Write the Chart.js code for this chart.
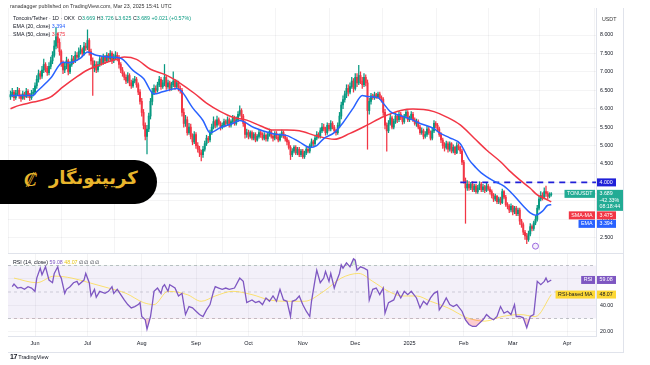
<!DOCTYPE html>
<html>
<head>
<meta charset="utf-8">
<script src="https://cdn.jsdelivr.net/npm/chart.js@4.4.1/dist/chart.umd.min.js"></script>
<style>
  body { margin: 0; background: #fff; overflow: hidden; font-family: "Liberation Sans", Arial, sans-serif; }
  #wrap { position: relative; width: 650px; height: 365px; }
  canvas { position: absolute; }
  .txt { position: absolute; font-size: 5.3px; line-height: 6px; color: #131722; white-space: nowrap; }
  .g { color: #089981; }
  .line { position: absolute; background: #e0e3eb; }
  #logo { position: absolute; left: -22px; top: 160px; width: 179px; height: 44px; background: #000;
          border-radius: 0 22px 22px 0; }
  #logo .fa { position: absolute; left: 71px; top: 7px; direction: rtl; font: bold 18px "DejaVu Sans", sans-serif; color: #e8b52c; }
  #logo .coin { position: absolute; left: 46px; top: 8px; font: italic bold 19px "DejaVu Serif", serif; color: #e8b52c; }
</style>
</head>
<body>
<div id="wrap">
  <canvas id="price-chart" width="615" height="245" style="left:8px;top:8px"></canvas>
  <canvas id="rsi-chart" width="615" height="100" style="left:8px;top:253px"></canvas>

  <div class="line" style="left:8px;top:253px;width:615px;height:1px"></div>
  <div class="line" style="left:623px;top:8px;width:1px;height:345px"></div>
  <div class="line" style="left:8px;top:352px;width:615px;height:1px"></div>

  <div class="txt" style="left:10px;top:3px;color:#333">ranadagger published on TradingView.com, Mar 23, 2025 15:41 UTC</div>
  <div class="txt" style="left:13px;top:15px">Toncoin/Tether · 1D · OKX&nbsp; O<span class="g">3.669</span> H<span class="g">3.726</span> L<span class="g">3.625</span> C<span class="g">3.689</span> <span class="g">+0.021 (+0.57%)</span></div>
  <div class="txt" style="left:13px;top:23px">EMA (20, close) <span style="color:#2962ff">3.394</span></div>
  <div class="txt" style="left:13px;top:31px">SMA (50, close) <span style="color:#f23645">3.475</span></div>
  <div class="txt" style="left:13px;top:259px">RSI (14, close) <span style="color:#7e57c2">59.08</span> <span style="color:#e6c619">48.07</span> ∅ ∅ ∅ ∅</div>
  <div class="txt" style="left:602px;top:16px;color:#333">USDT</div>

  <div id="logo"><span class="coin">₡</span><span class="fa">کریپتونگار</span></div>

  <div class="txt" style="left:10px;top:354px;font-size:5.5px"><b style="font-size:7px;letter-spacing:-0.5px">17</b> TradingView</div>
</div>

<script>
// Toncoin/Tether 1D, days counted from Jun 1 2024 (day 0)
const firstDay = -14;
const firstOpen = 6.32;
const closes = [
  6.38, 6.45, 6.30, 6.42, 6.50, 6.35, 6.28, 6.40, 6.33, 6.47, 6.38, 6.30, 6.42, 6.45,
  6.62, 6.80, 6.95, 6.88, 7.05, 7.20, 7.10, 6.98, 7.15, 7.30, 7.45,
  7.70, 7.95, 7.80, 7.55, 7.25,
  7.05, 7.15, 7.30, 7.00, 7.20, 7.35,
  7.30, 7.45, 7.40, 7.55, 7.60, 7.50, 7.70, 7.65, 7.85,
  7.55, 7.30, 7.10, 7.20, 7.05,
  7.20, 7.35, 7.25, 7.40, 7.30, 7.45, 7.35, 7.50, 7.30, 7.40, 7.45,
  7.40, 7.20,
  7.05, 6.95, 6.85, 6.75, 6.90, 6.70, 6.62, 6.75, 6.80, 6.65,
  6.45, 6.20, 5.90, 5.55, 5.25, 5.45, 5.80, 6.20, 6.45, 6.55,
  6.50, 6.65, 6.80, 6.60, 6.70, 6.85, 6.60,
  6.70, 6.55, 6.65, 6.75, 6.60, 6.70, 6.55, 6.50,
  5.90, 5.60, 5.70, 5.35, 5.50, 5.25, 5.10, 5.30, 5.00, 4.90, 4.80,
  4.75, 4.90, 5.05, 5.20, 5.15, 5.35,
  5.50, 5.65, 5.55, 5.70, 5.60, 5.50,
  5.55, 5.65, 5.60, 5.70, 5.55, 5.65, 5.75, 5.60, 5.70, 5.85, 5.95,
  5.80, 5.60, 5.30, 5.35,
  5.25, 5.35, 5.20, 5.30, 5.15, 5.25, 5.35, 5.30, 5.20, 5.28, 5.18, 5.30, 5.38, 5.25, 5.20, 5.32, 5.22, 5.15, 5.28, 5.35, 5.25, 5.18, 5.10,
  4.95, 4.75, 4.85, 4.95, 4.80, 4.90, 4.75, 4.85, 4.70, 4.80, 4.90, 4.85, 5.00,
  5.10, 5.05, 5.20, 5.30, 5.25, 5.40,
  5.50, 5.45, 5.35, 5.55, 5.45, 5.60, 5.50, 5.40, 5.35,
  5.55, 5.80, 6.10, 6.25, 6.40, 6.55,
  6.45, 6.60, 6.75, 6.55, 6.85, 6.70, 6.90, 6.75, 6.65, 6.85, 6.70,
  5.95,
  6.20, 6.35, 6.30, 6.38, 6.32, 6.40, 6.30, 6.25,
  5.90, 5.55, 5.40,
  5.60, 5.75, 5.50, 5.65, 5.80, 5.70,
  5.85, 5.75, 5.65, 5.80, 5.90, 5.70, 5.75, 5.85, 5.70, 5.60, 5.65,
  5.50, 5.35, 5.40, 5.25, 5.30, 5.45, 5.35, 5.20, 5.40,
  5.60, 5.55, 5.45,
  5.30, 5.15, 5.00, 4.95, 5.05,
  4.90, 5.05, 4.85, 4.95, 4.80, 5.00, 4.95, 4.85,
  4.55, 4.05, 3.85, 3.95,
  3.85, 3.95, 3.80, 3.90, 3.75, 3.85, 3.95, 3.80, 3.88, 3.78, 3.90, 3.82, 3.75,
  3.65, 3.55, 3.62, 3.48, 3.55, 3.45, 3.75, 3.60, 3.40, 3.35,
  3.25, 3.35, 3.20, 3.30, 3.15, 3.25, 2.95,
  2.85, 2.65, 2.55, 2.45, 2.60,
  2.80, 2.75, 2.90, 3.00,
  3.30, 3.55, 3.65,
  3.60, 3.75, 3.70, 3.62, 3.67, 3.689
];
const highs = [
  6.48, 6.55, 6.50, 6.50, 6.58, 6.55, 6.40, 6.48, 6.45, 6.55, 6.52, 6.42, 6.50, 6.55,
  6.70, 6.90, 7.05, 7.02, 7.15, 7.35, 7.25, 7.15, 7.25, 7.40, 7.55,
  7.85, 8.20, 8.05, 7.90, 7.60,
  7.30, 7.25, 7.40, 7.35, 7.28, 7.45,
  7.42, 7.55, 7.52, 7.65, 7.72, 7.65, 7.80, 7.78, 8.14,
  7.90, 7.62, 7.38, 7.30, 7.28,
  7.28, 7.45, 7.40, 7.48, 7.45, 7.52, 7.50, 7.58, 7.55, 7.48, 7.55,
  7.52, 7.45,
  7.25, 7.12, 7.00, 6.92, 6.98, 6.95, 6.78, 6.82, 6.88, 6.85,
  6.70, 6.52, 6.28, 5.98, 5.62, 5.55, 5.88, 6.28, 6.55, 6.65,
  6.62, 6.72, 6.88, 6.85, 6.78, 7.20, 6.90,
  6.78, 6.75, 6.72, 7.00, 6.80, 6.78, 6.75, 6.62,
  6.55, 6.00, 5.82, 5.78, 5.60, 5.58, 5.32, 5.38, 5.35, 5.08, 4.98,
  4.88, 4.98, 5.12, 5.28, 5.25, 5.42,
  5.58, 5.78, 5.70, 5.80, 5.75, 5.65,
  5.62, 5.72, 5.70, 5.78, 5.75, 5.70, 5.82, 5.80, 5.78, 5.92, 6.08,
  6.00, 5.85, 5.65, 5.45,
  5.42, 5.40, 5.40, 5.35, 5.35, 5.30, 5.42, 5.40, 5.35, 5.35, 5.32, 5.35, 5.45, 5.42, 5.30, 5.38, 5.38, 5.28, 5.32, 5.42, 5.40, 5.30, 5.22,
  5.15, 5.00, 4.92, 5.00, 5.00, 4.95, 4.95, 4.90, 4.90, 4.85, 4.95, 4.98, 5.05,
  5.18, 5.15, 5.28, 5.38, 5.35, 5.48,
  5.60, 5.58, 5.50, 5.62, 5.60, 5.68, 5.65, 5.55, 5.45,
  5.62, 5.90, 6.18, 6.35, 6.48, 6.65,
  6.65, 6.70, 6.85, 6.82, 6.95, 6.95, 7.18, 7.00, 6.85, 6.95, 6.92,
  6.78,
  6.28, 6.42, 6.40, 6.45, 6.42, 6.45, 6.45, 6.35,
  6.30, 5.98, 5.62,
  5.68, 5.85, 5.80, 5.72, 5.88, 5.85,
  5.92, 5.90, 5.80, 5.85, 5.98, 5.95, 5.80, 5.92, 5.90, 5.75, 5.72,
  5.70, 5.55, 5.48, 5.45, 5.38, 5.52, 5.50, 5.40, 5.48,
  5.68, 5.65, 5.60,
  5.50, 5.35, 5.20, 5.08, 5.12,
  5.10, 5.10, 5.08, 5.02, 4.98, 5.08, 5.05, 4.98,
  4.90, 4.60, 4.12, 4.05,
  4.02, 4.00, 4.02, 3.95, 3.95, 3.92, 4.02, 4.00, 3.95, 3.92, 3.98, 3.95, 3.88,
  3.80, 3.70, 3.68, 3.65, 3.60, 3.60, 3.82, 3.78, 3.65, 3.45,
  3.40, 3.42, 3.38, 3.35, 3.35, 3.30, 3.30,
  3.00, 2.90, 2.70, 2.62, 2.68,
  2.88, 2.85, 2.95, 3.08,
  3.38, 3.62, 3.75,
  3.72, 3.85, 3.90, 3.75, 3.72, 3.726
];
const lows = [
  6.25, 6.32, 6.22, 6.25, 6.38, 6.28, 6.20, 6.25, 6.25, 6.30, 6.30, 6.22, 6.25, 6.35,
  6.40, 6.55, 6.72, 6.80, 6.82, 6.98, 7.00, 6.90, 6.92, 7.08, 7.22,
  7.40, 7.62, 7.65, 7.45, 7.15,
  6.95, 6.98, 7.08, 6.92, 6.95, 7.15,
  7.22, 7.25, 7.32, 7.35, 7.48, 7.42, 7.45, 7.58, 7.60,
  7.45, 7.20, 6.36, 7.00, 6.98,
  7.00, 7.15, 7.18, 7.20, 7.22, 7.25, 7.28, 7.30, 7.22, 7.25, 7.35,
  7.30, 7.10,
  6.98, 6.88, 6.78, 6.68, 6.70, 6.62, 6.55, 6.58, 6.70, 6.58,
  6.38, 6.12, 5.80, 5.45, 5.15, 4.77, 5.38, 5.72, 6.10, 6.38,
  6.42, 6.45, 6.60, 6.52, 6.55, 6.62, 6.52,
  6.55, 6.48, 6.50, 6.60, 6.52, 6.55, 6.48, 6.42,
  5.80, 5.50, 5.52, 5.28, 5.30, 5.18, 5.02, 5.05, 4.92, 4.82, 4.70,
  4.58, 4.68, 4.85, 5.00, 5.08, 5.10,
  5.30, 5.45, 5.48, 5.50, 5.55, 5.42,
  5.45, 5.50, 5.52, 5.55, 5.50, 5.50, 5.60, 5.55, 5.55, 5.65, 5.80,
  5.72, 5.52, 5.20, 5.22,
  5.18, 5.20, 5.15, 5.15, 5.10, 5.12, 5.20, 5.22, 5.15, 5.15, 5.12, 5.12, 5.25, 5.20, 5.12, 5.15, 5.18, 5.10, 5.12, 5.22, 5.20, 5.12, 5.02,
  4.90, 4.62, 4.70, 4.80, 4.75, 4.75, 4.70, 4.70, 4.65, 4.65, 4.75, 4.80, 4.80,
  4.95, 4.98, 5.00, 5.15, 5.20, 5.20,
  5.35, 5.40, 5.28, 5.30, 5.40, 5.40, 5.45, 5.35, 5.28,
  5.30, 5.48, 5.72, 6.00, 6.18, 6.30,
  6.35, 6.40, 6.55, 6.45, 6.50, 6.60, 6.65, 6.68, 6.55, 6.60, 6.62,
  4.90,
  5.85, 6.12, 6.25, 6.25, 6.28, 6.28, 6.25, 6.18,
  5.82, 5.45, 4.85,
  5.35, 5.55, 5.45, 5.45, 5.60, 5.62,
  5.65, 5.70, 5.58, 5.60, 5.75, 5.65, 5.65, 5.70, 5.65, 5.55, 5.52,
  5.45, 5.30, 5.30, 5.18, 5.20, 5.25, 5.30, 5.15, 5.15,
  5.35, 5.48, 5.38,
  5.25, 5.08, 4.92, 4.85, 4.90,
  4.82, 4.85, 4.80, 4.80, 4.75, 4.78, 4.88, 4.78,
  4.48, 3.98, 2.89, 3.78,
  3.78, 3.80, 3.75, 3.75, 3.70, 3.70, 3.80, 3.75, 3.75, 3.72, 3.75, 3.78, 3.68,
  3.58, 3.48, 3.50, 3.42, 3.42, 3.40, 3.42, 3.55, 3.35, 3.28,
  3.18, 3.20, 3.12, 3.15, 3.10, 3.10, 2.86,
  2.78, 2.58, 2.45, 2.34, 2.40,
  2.55, 2.68, 2.70, 2.85,
  2.95, 3.25, 3.50,
  3.52, 3.55, 3.62, 3.55, 3.58, 3.625
];

const emaDays = [-14, -1, 1, 9, 16, 20, 26, 30, 35, 43, 49, 56, 62, 68, 73, 81, 84, 90, 96, 100,
  106, 113, 117, 125, 136, 144, 151, 157, 161, 165, 171, 176, 182, 187, 190, 196, 199, 203, 209, 214,
  220, 228, 231, 237, 243, 248, 252, 255, 262, 268, 273, 279, 283, 286, 290, 293, 295];
const emaValues = [6.36, 6.36, 6.46, 6.83, 7.26, 7.25, 7.37, 7.54, 7.45, 7.40, 7.37, 7.04, 6.82, 6.40, 6.46, 6.55, 6.46, 6.03, 5.68, 5.35,
  5.49, 5.60, 5.68, 5.49, 5.32, 5.27, 5.10, 4.95, 5.00, 5.19, 5.35, 5.62, 6.03, 6.36, 6.33, 6.30, 6.15, 5.92, 5.81, 5.73,
  5.60, 5.46, 5.35, 5.21, 5.05, 4.62, 4.40, 4.26, 4.04, 3.90, 3.68, 3.36, 3.17, 3.11, 3.22, 3.38, 3.394];

const smaDays = [-14, -9, -1, 9, 16, 24, 30, 37, 45, 51, 58, 66, 75, 83, 91, 98, 106, 113, 121, 129,
  136, 144, 151, 161, 171, 180, 190, 199, 209, 216, 222, 228, 235, 243, 251, 258, 266, 271, 277, 283, 287, 291, 295];
const smaValues = [6.00, 6.09, 6.18, 6.32, 6.59, 6.87, 7.05, 7.19, 7.32, 7.40, 7.34, 7.07, 6.91, 6.69, 6.42, 6.15, 5.92, 5.77, 5.69, 5.53,
  5.42, 5.42, 5.40, 5.26, 5.17, 5.33, 5.56, 5.78, 5.95, 5.99, 5.98, 5.92, 5.78, 5.56, 5.20, 4.88, 4.56, 4.32, 4.07, 3.84, 3.66, 3.57, 3.475];

const rsiDays = [-13, -12, -10, -8, -6, -4, -2, 0, 1, 3, 4, 6, 8, 10, 11, 13, 14, 15, 17, 18, 20, 22, 24, 25, 28, 29, 31, 32, 34, 35,
  37, 40, 42, 44, 45, 47, 49, 51, 53, 55, 57, 59, 60, 61, 63, 64, 66, 67, 68, 70, 72, 73, 74, 76, 77, 80, 82, 84, 86, 88,
  90, 92, 94, 96, 98, 100, 102, 103, 105, 107, 109, 111, 114, 117, 119, 121, 124, 126, 128, 130, 132, 134, 136, 138, 140, 142, 144, 146, 147, 149,
  151, 153, 155, 157, 158, 160, 161, 163, 165, 166, 168, 169, 171, 172, 174, 175, 176, 178, 180, 182, 183, 184, 186, 188, 190, 191, 193, 195, 197, 199,
  200, 202, 205, 207, 209, 211, 213, 215, 218, 220, 222, 224, 226, 228, 230, 231, 233, 235, 237, 239, 241, 244, 246, 248, 250, 252, 254, 256, 258, 260,
  262, 264, 266, 268, 270, 272, 274, 275, 277, 279, 281, 283, 285, 287, 289, 291, 292, 293, 295];
const rsiValues = [54, 56, 53, 53.5, 52, 54, 53, 50.5, 60.5, 68, 63, 69, 59, 57, 64, 69, 63, 60.5, 49, 52, 54, 57, 58, 55.5, 59, 64, 57, 47, 52, 46,
  50.5, 49, 50.5, 54, 49, 52, 48, 44, 40.5, 38, 39, 40.5, 42, 31.5, 29, 22, 31.5, 40.5, 50.5, 53, 49, 54, 55.5, 50.5, 55.5, 53, 47, 49, 33, 39,
  38, 35.5, 33, 31.5, 36.5, 40.5, 50.5, 54, 53, 52, 53, 52, 53, 60.5, 58, 42, 44, 42, 43, 40.5, 45.5, 43, 47, 43, 52, 44, 43, 31.5, 43, 44,
  47, 40.5, 35.5, 31.5, 43, 59, 66.5, 57, 60.5, 65.5, 58, 64, 53, 57, 64, 70.5, 68, 72, 69, 75, 74, 66.5, 69, 68, 66.5, 44, 52, 53, 48, 53,
  34, 42, 44, 50.5, 45.5, 50.5, 48, 50.5, 45.5, 38, 43, 40.5, 45.5, 49, 50.5, 36.5, 40.5, 45.5, 40.5, 39, 40.5, 35.5, 29, 25.5, 24, 24, 26.5, 29, 33, 30.5,
  29, 31.5, 39, 34, 35.5, 33, 40.5, 31.5, 31.5, 30.5, 23, 31.5, 33, 58, 55.5, 58, 60.5, 57.5, 59.08];

const rsiMaDays = [-12, 1, 11, 21, 31, 42, 52, 62, 68, 76, 87, 95, 103, 113, 124, 134, 144, 154, 165, 175,
  185, 193, 202, 210, 218, 226, 236, 247, 257, 267, 277, 286, 295];
const rsiMaValues = [60.5, 57, 62, 60.5, 57, 53, 49, 42, 40.5, 50.5, 48, 43, 47, 50.5, 48, 44, 43, 43, 50.5, 60.5,
  64, 58, 50.5, 47, 47, 43, 38, 30.5, 28, 31.5, 33, 31.5, 48.07];

const monthDays = [0, 30, 61, 92, 122, 153, 183, 214, 245, 273, 304];
const monthLabels = ['Jun', 'Jul', 'Aug', 'Sep', 'Oct', 'Nov', 'Dec', '2025', 'Feb', 'Mar', 'Apr'];
const priceTicks = [2.5, 3, 3.5, 4, 4.5, 5, 5.5, 6, 6.5, 7, 7.5, 8];
const rsiTicks = [20, 40, 60];
const rsiLevels = [70, 50, 30];
const supportLevel = 4.0;
const supportFromDay = 243;
const eventMarks = [{ x: 286, y: 2.27 }];

const xMin = -15.43, xMax = 320.57;
const upColor = '#089981', downColor = '#f23645';
const fontFamily = '"Liberation Sans", Arial, sans-serif';

const days = closes.map((c, i) => firstDay + i);
const opens = closes.map((c, i) => i === 0 ? firstOpen : closes[i - 1]);
const candleColors = closes.map((c, i) => c >= opens[i] ? upColor : downColor);
const last = closes.length - 1;

// boxes on the price axis, pushed down when they would overlap
const tagPlugin = {
    id: 'tags',
    afterDraw(chart, args, opts) {
        const { ctx, chartArea } = chart;
        const scale = chart.scales.y;
        let lastBottom = -Infinity;
        ctx.save();
        ctx.font = '5.3px ' + fontFamily;
        ctx.textBaseline = 'middle';
        opts.items.forEach(t => {
            const h = t.lines.length === 1 ? 8 : 21;
            let top = scale.getPixelForValue(t.value) - 4;
            if (top < lastBottom + 0.5) top = lastBottom + 0.5;
            lastBottom = top + h;
            const cy = top + 4;
            ctx.fillStyle = t.color;
            ctx.fillRect(chartArea.right + 1, top, t.lines.length === 1 ? 19 : 26, h);
            ctx.fillStyle = t.textColor || '#fff';
            ctx.textAlign = 'left';
            t.lines.forEach((s, k) => ctx.fillText(s, chartArea.right + 3.5, cy + k * 6.5));
            if (t.name) {
                const w = ctx.measureText(t.name).width + 5;
                ctx.fillStyle = t.color;
                ctx.fillRect(chartArea.right - 1 - w, top, w, 8);
                ctx.fillStyle = t.textColor || '#fff';
                ctx.textAlign = 'right';
                ctx.fillText(t.name, chartArea.right - 3.5, cy);
            }
        });
        ctx.restore();
    }
};

const flat = (v, from, to) => [{ x: from, y: v }, { x: to, y: v }];
const pts = (xs, ys) => xs.map((x, i) => ({ x: x, y: ys[i] }));
const monthTicks = s => { s.ticks = monthDays.map(v => ({ value: v })); };
// keep the plot area flush with the canvas edges
const noPad = s => { s.paddingTop = 0; s.paddingBottom = 0; s.paddingLeft = 0; s.paddingRight = 0; };

const priceChart = new Chart(document.getElementById('price-chart'), {
    type: 'bar',
    data: {
        datasets: [{
            type: 'line',
            data: pts(emaDays, emaValues),
            borderColor: '#2962ff',
            borderWidth: 1.5,
            pointRadius: 0,
            pointHoverRadius: 0,
            cubicInterpolationMode: 'monotone',
            order: 0
        }, {
            type: 'line',
            data: pts(smaDays, smaValues),
            borderColor: '#f23645',
            borderWidth: 1.5,
            pointRadius: 0,
            pointHoverRadius: 0,
            cubicInterpolationMode: 'monotone',
            order: 0
        }, {
            type: 'line',
            data: flat(supportLevel, supportFromDay, xMax),
            borderColor: '#2020d8',
            borderWidth: 1.6,
            borderDash: [6, 5],
            pointRadius: 0,
            pointHoverRadius: 0,
            order: 0
        }, {
            type: 'line',
            data: flat(closes[last], xMin, xMax),
            borderColor: 'rgba(120,123,134,0.25)',
            borderWidth: 1,
            pointRadius: 0,
            pointHoverRadius: 0,
            order: 3
        }, {
            type: 'scatter',
            data: eventMarks,
            pointRadius: 3,
            pointHoverRadius: 0,
            pointBorderWidth: 1,
            pointBorderColor: '#9c6ade',
            pointBackgroundColor: '#f4eefc',
            order: 0
        }, {
            data: days.map((d, i) => ({ x: d, y: [lows[i], highs[i]] })),
            backgroundColor: candleColors,
            barThickness: 0.6,
            grouped: false,
            order: 2
        }, {
            data: days.map((d, i) => ({ x: d, y: [opens[i], closes[i]] })),
            backgroundColor: candleColors,
            barThickness: 1.3,
            grouped: false,
            order: 1
        }]
    },
    options: {
        responsive: false,
        animation: false,
        layout: { padding: 0, autoPadding: false },
        plugins: {
            legend: { display: false },
            tooltip: { enabled: false },
            tags: {
                items: [
                    { value: supportLevel, lines: [supportLevel.toFixed(3)], color: '#2020d8' },
                    { value: closes[last], name: 'TONUSDT', lines: [closes[last].toFixed(3), '-42.33%', '08:18:44'], color: '#22ab94' },
                    { value: smaValues[smaValues.length - 1], name: 'SMA-MA', lines: [smaValues[smaValues.length - 1].toFixed(3)], color: '#f23645' },
                    { value: emaValues[emaValues.length - 1], name: 'EMA', lines: [emaValues[emaValues.length - 1].toFixed(3)], color: '#2962ff' }
                ]
            }
        },
        scales: {
            x: {
                type: 'linear',
                min: xMin,
                max: xMax,
                offset: false,
                grid: { color: 'rgba(42,46,57,0.05)', drawTicks: false },
                border: { display: false },
                ticks: { display: false },
                afterBuildTicks: monthTicks,
                afterFit: s => { s.height = 0; noPad(s); }
            },
            y: {
                position: 'right',
                min: 2.084,
                max: 8.733,
                grid: { color: 'rgba(42,46,57,0.05)', drawTicks: false },
                border: { color: '#e0e3eb' },
                ticks: {
                    padding: 4,
                    color: '#131722',
                    font: { size: 5.3, family: fontFamily },
                    callback: v => v.toFixed(3)
                },
                afterBuildTicks: s => { s.ticks = priceTicks.map(v => ({ value: v })); },
                afterFit: s => { s.width = 27; noPad(s); }
            }
        }
    },
    plugins: [tagPlugin]
});

const rsiChart = new Chart(document.getElementById('rsi-chart'), {
    type: 'line',
    data: {
        datasets: [{
            data: flat(rsiLevels[0], xMin, xMax),
            borderColor: 'rgba(120,123,134,0.55)',
            borderWidth: 0.8,
            borderDash: [3, 3],
            pointRadius: 0,
            order: 5
        }, {
            data: flat(rsiLevels[2], xMin, xMax),
            borderColor: 'rgba(120,123,134,0.55)',
            borderWidth: 0.8,
            borderDash: [3, 3],
            pointRadius: 0,
            fill: '-1',
            backgroundColor: 'rgba(126,87,194,0.09)',
            order: 5
        }, {
            data: flat(rsiLevels[1], xMin, xMax),
            borderColor: 'rgba(120,123,134,0.4)',
            borderWidth: 0.8,
            borderDash: [3, 3],
            pointRadius: 0,
            order: 5
        }, {
            data: pts(rsiMaDays, rsiMaValues),
            borderColor: 'rgba(253,216,53,0.7)',
            borderWidth: 1,
            pointRadius: 0,
            cubicInterpolationMode: 'monotone',
            order: 2
        }, {
            data: pts(rsiDays, rsiValues),
            borderColor: '#7e57c2',
            borderWidth: 1.3,
            pointRadius: 0,
            fill: { target: { value: rsiLevels[0] }, above: 'rgba(76,175,80,0.25)', below: 'rgba(0,0,0,0)' },
            order: 1
        }, {
            data: pts(rsiDays, rsiValues),
            borderWidth: 0,
            borderColor: 'rgba(0,0,0,0)',
            pointRadius: 0,
            fill: { target: { value: rsiLevels[2] }, above: 'rgba(0,0,0,0)', below: 'rgba(242,54,69,0.25)' },
            order: 1
        }]
    },
    options: {
        responsive: false,
        animation: false,
        layout: { padding: 0, autoPadding: false },
        elements: { point: { hoverRadius: 0 } },
        plugins: {
            legend: { display: false },
            tooltip: { enabled: false },
            tags: {
                items: [
                    { value: rsiValues[rsiValues.length - 1], name: 'RSI', lines: [rsiValues[rsiValues.length - 1].toFixed(2)], color: '#7e57c2' },
                    { value: rsiMaValues[rsiMaValues.length - 1], name: 'RSI-based MA', lines: [rsiMaValues[rsiMaValues.length - 1].toFixed(2)], color: '#fdd835', textColor: '#131722' }
                ]
            }
        },
        scales: {
            x: {
                type: 'linear',
                min: xMin,
                max: xMax,
                grid: { color: 'rgba(42,46,57,0.05)', drawTicks: false },
                border: { color: '#e0e3eb' },
                ticks: {
                    padding: 4,
                    color: '#131722',
                    maxRotation: 0,
                    autoSkip: false,
                    font: { size: 5.5, family: fontFamily },
                    callback: v => monthLabels[monthDays.indexOf(v)] || ''
                },
                afterBuildTicks: monthTicks,
                afterFit: s => { s.height = 17; noPad(s); }
            },
            y: {
                position: 'right',
                min: 16.79,
                max: 79.43,
                grid: { color: 'rgba(42,46,57,0.05)', drawTicks: false },
                border: { color: '#e0e3eb' },
                ticks: {
                    padding: 4,
                    color: '#131722',
                    font: { size: 5.3, family: fontFamily },
                    callback: v => v.toFixed(2)
                },
                afterBuildTicks: s => { s.ticks = rsiTicks.map(v => ({ value: v })); },
                afterFit: s => { s.width = 27; noPad(s); }
            }
        }
    },
    plugins: [tagPlugin]
});
</script>
</body>
</html>
